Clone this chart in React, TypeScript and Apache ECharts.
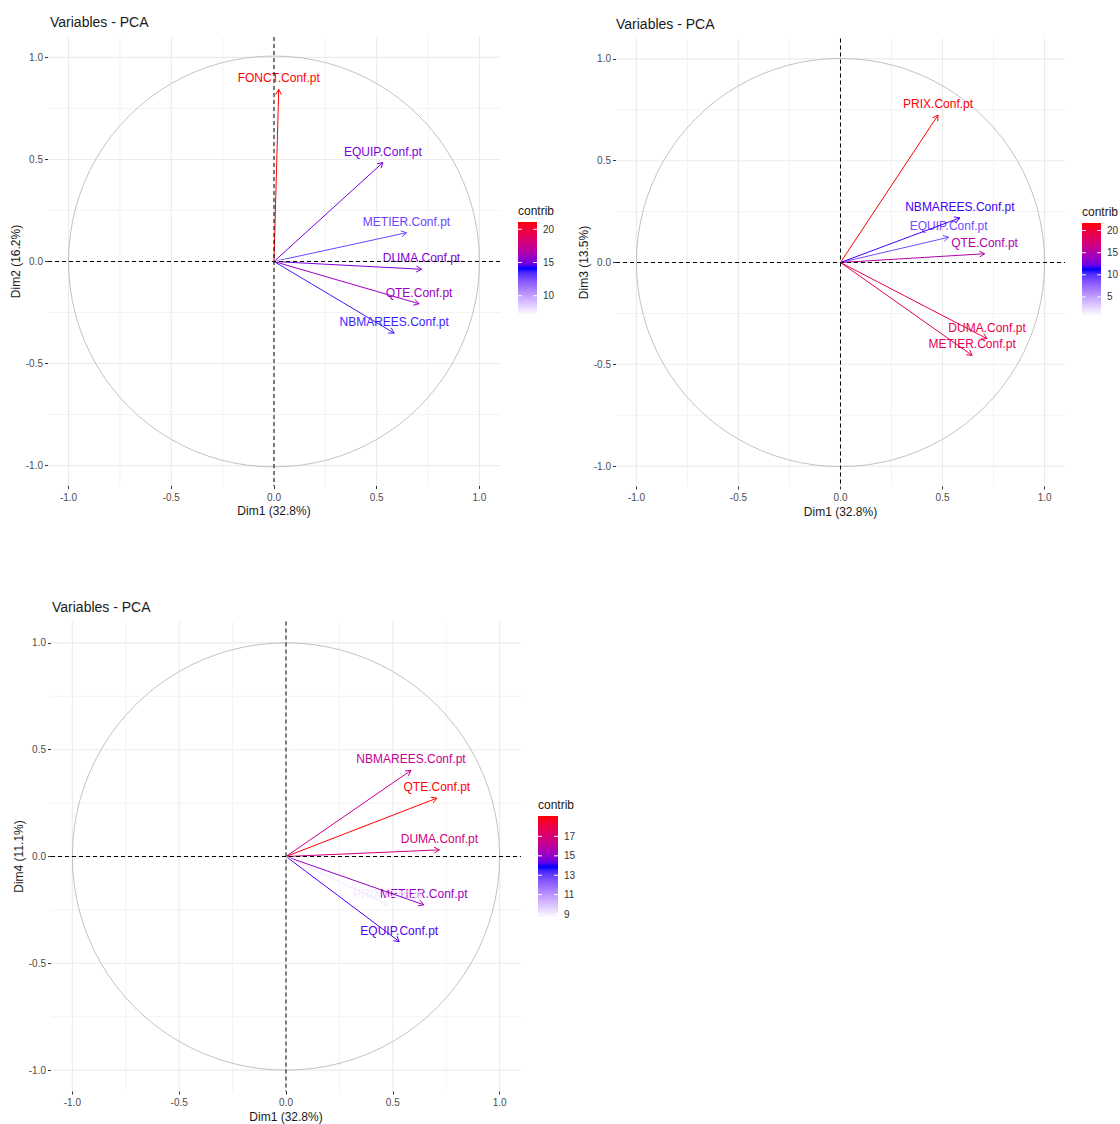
import React, { useEffect, useRef } from "react";
import * as echarts from "echarts";

// ---------------- DATA ----------------
const variables = [
  "FONCT.Conf.pt",
  "EQUIP.Conf.pt",
  "METIER.Conf.pt",
  "DUMA.Conf.pt",
  "QTE.Conf.pt",
  "NBMAREES.Conf.pt",
  "PRIX.Conf.pt",
];
const dim1 = [0.023, 0.53, 0.645, 0.718, 0.706, 0.585, 0.478];
const dim2 = [0.843, 0.485, 0.141, -0.038, -0.207, -0.351, 0.06];
const dim3 = [0.09, 0.124, -0.456, -0.374, 0.043, 0.219, 0.724];
const dim4 = [0.53, -0.398, -0.226, 0.031, 0.273, 0.403, -0.226];

const contrib12 = [21.1, 15.1, 12.8, 15.2, 15.9, 13.7, 7.1];
const contrib13 = [0.7, 8.9, 18.6, 19.3, 14.9, 11.6, 21.7];
const contrib14 = [8.6, 14.2, 15.1, 16.8, 19.1, 16.3, 9.1];

const legendTicks12 = [10, 15, 20];
const legendTicks13 = [5, 10, 15, 20];
const legendTicks14 = [9, 11, 13, 15, 17];

const axisTickValues = [-1, -0.5, 0, 0.5, 1];
const minorGridValues = [-0.75, -0.25, 0.25, 0.75];

const xName = "Dim1 (32.8%)";
const yNames = ["Dim2 (16.2%)", "Dim3 (13.5%)", "Dim4 (11.1%)"];
const titleText = "Variables - PCA";

// ---------------- COLOUR (Lab interpolation like ggplot) ----------------
function toLab(hex: string) {
  const r = parseInt(hex.slice(1, 3), 16) / 255;
  const g = parseInt(hex.slice(3, 5), 16) / 255;
  const b = parseInt(hex.slice(5, 7), 16) / 255;
  const lin = (c: number) => (c <= 0.04045 ? c / 12.92 : Math.pow((c + 0.055) / 1.055, 2.4));
  const R = lin(r), G = lin(g), B = lin(b);
  const X = (0.4124564 * R + 0.3575761 * G + 0.1804375 * B) / 0.95047;
  const Y = 0.2126729 * R + 0.7151522 * G + 0.072175 * B;
  const Z = (0.0193339 * R + 0.119192 * G + 0.9503041 * B) / 1.08883;
  const f = (t: number) => (t > 0.008856 ? Math.cbrt(t) : 7.787 * t + 16 / 116);
  const fx = f(X), fy = f(Y), fz = f(Z);
  return [116 * fy - 16, 500 * (fx - fy), 200 * (fy - fz)];
}
function fromLab(L: number, a: number, bb: number) {
  const fy = (L + 16) / 116;
  const fx = fy + a / 500;
  const fz = fy - bb / 200;
  const inv = (t: number) => (t * t * t > 0.008856 ? t * t * t : (t - 16 / 116) / 7.787);
  const X = inv(fx) * 0.95047, Y = inv(fy), Z = inv(fz) * 1.08883;
  const R = 3.2404542 * X - 1.5371385 * Y - 0.4985314 * Z;
  const G = -0.969266 * X + 1.8760108 * Y + 0.041556 * Z;
  const B = 0.0556434 * X - 0.2040259 * Y + 1.0572252 * Z;
  const gam = (c: number) => {
    const v = c <= 0.0031308 ? 12.92 * c : 1.055 * Math.pow(Math.max(c, 0), 1 / 2.4) - 0.055;
    return Math.round(Math.min(1, Math.max(0, v)) * 255);
  };
  return `rgb(${gam(R)},${gam(G)},${gam(B)})`;
}
const gradientCols = ["#FFFFFF", "#0000FF", "#FF0000"].map(toLab);
function colorAt(t: number) {
  const tt = Math.min(1, Math.max(0, t));
  const seg = tt <= 0.5 ? 0 : 1;
  const lt = seg === 0 ? tt / 0.5 : (tt - 0.5) / 0.5;
  const a = gradientCols[seg], b = gradientCols[seg + 1];
  return fromLab(a[0] + (b[0] - a[0]) * lt, a[1] + (b[1] - a[1]) * lt, a[2] + (b[2] - a[2]) * lt);
}

const FONT = '"Liberation Sans", Arial, sans-serif';

type Panel = {
  left: number; top: number; width: number; height: number;
  ys: number[]; contrib: number[]; yName: string;
  legend: { x: number; y: number; w: number; h: number; ticks: number[] };
  title: { x: number; y: number };
};

const panels: Panel[] = [
  {
    left: 48, top: 37, width: 452, height: 449, ys: dim2, contrib: contrib12, yName: yNames[0],
    legend: { x: 518, y: 222, w: 19, h: 93, ticks: legendTicks12 },
    title: { x: 50, y: 23 },
  },
  {
    left: 616, top: 38.5, width: 449, height: 448, ys: dim3, contrib: contrib13, yName: yNames[1],
    legend: { x: 1082, y: 223, w: 19, h: 93, ticks: legendTicks13 },
    title: { x: 616, y: 25 },
  },
  {
    left: 51, top: 621.5, width: 470, height: 470, ys: dim4, contrib: contrib14, yName: yNames[2],
    legend: { x: 538, y: 816, w: 20, h: 102, ticks: legendTicks14 },
    title: { x: 52, y: 608 },
  },
];

function buildOption() {
  const grid: any[] = [];
  const xAxis: any[] = [];
  const yAxis: any[] = [];
  const series: any[] = [];
  const graphic: any[] = [];

  panels.forEach((p, i) => {
    const cmin = Math.min(...p.contrib);
    const cmax = Math.max(...p.contrib);
    const colOf = (c: number) => colorAt((c - cmin) / (cmax - cmin));

    grid.push({ left: p.left, top: p.top, width: p.width, height: p.height, containLabel: false });
    const common = {
      gridIndex: i,
      type: "value",
      min: -1.1,
      max: 1.1,
      splitLine: { show: false },
      axisLine: { show: false, onZero: false },
      axisTick: { show: true, customValues: axisTickValues, length: 3, lineStyle: { color: "#333333", width: 1 } },
      axisLabel: {
        customValues: axisTickValues,
        formatter: (v: number) => v.toFixed(1),
        color: "#4D4D4D",
        fontSize: 10,
        fontFamily: FONT,
        margin: 6,
      },
      nameLocation: "middle",
      nameTextStyle: { fontSize: 12, color: "#1A1A1A", fontFamily: FONT },
    };
    xAxis.push({ ...common, name: xName, nameGap: 19 });
    yAxis.push({ ...common, name: p.yName, nameGap: 24, axisLabel: { ...common.axisLabel, margin: 5 } });

    // grid lines
    const gridData = [
      ...axisTickValues.map((v) => [v, 1]),
      ...minorGridValues.map((v) => [v, 0]),
    ];
    series.push({
      type: "custom",
      xAxisIndex: i,
      yAxisIndex: i,
      z: 0,
      silent: true,
      data: gridData,
      encode: { x: 0, y: 0 },
      renderItem: (params: any, api: any) => {
        const v = api.value(0);
        const major = api.value(1) === 1;
        const cs = params.coordSys;
        const px = api.coord([v, 0])[0];
        const py = api.coord([0, v])[1];
        const style = { stroke: "#EBEBEB", lineWidth: major ? 1.1 : 0.6 };
        return {
          type: "group",
          children: [
            { type: "line", shape: { x1: px, y1: cs.y, x2: px, y2: cs.y + cs.height }, style },
            { type: "line", shape: { x1: cs.x, y1: py, x2: cs.x + cs.width, y2: py }, style },
          ],
        };
      },
    });

    // correlation circle
    series.push({
      type: "custom",
      xAxisIndex: i,
      yAxisIndex: i,
      z: 1,
      silent: true,
      data: [[0, 0, 1]],
      encode: { x: 0, y: 1 },
      renderItem: (params: any, api: any) => {
        const c = api.coord([api.value(0), api.value(1)]);
        const r = api.size([api.value(2), 0])[0];
        return { type: "circle", shape: { cx: c[0], cy: c[1], r }, style: { stroke: "#B3B3B3", fill: "none", lineWidth: 0.8 } };
      },
    });

    const rows = variables.map((_, k) => [dim1[k], p.ys[k], p.contrib[k]]);

    // labels (drawn beneath the arrows)
    series.push({
      type: "custom",
      xAxisIndex: i,
      yAxisIndex: i,
      z: 2,
      silent: true,
      data: rows,
      encode: { x: 0, y: 1 },
      renderItem: (params: any, api: any) => {
        const t = api.coord([api.value(0), api.value(1)]);
        const col = colOf(api.value(2));
        return {
          type: "text",
          x: t[0],
          y: t[1] - 11,
          style: {
            text: variables[params.dataIndex],
            fill: col,
            fontSize: 12,
            fontFamily: FONT,
            align: "center",
            verticalAlign: "middle",
          },
        };
      },
    });

    // arrows
    series.push({
      type: "custom",
      xAxisIndex: i,
      yAxisIndex: i,
      z: 3,
      silent: true,
      data: rows,
      encode: { x: 0, y: 1 },
      renderItem: (params: any, api: any) => {
        const o = api.coord([0, 0]);
        const t = api.coord([api.value(0), api.value(1)]);
        const col = colOf(api.value(2));
        const ang = Math.atan2(t[1] - o[1], t[0] - o[0]);
        const L = 6, a = Math.PI / 6;
        const w1 = [t[0] - L * Math.cos(ang - a), t[1] - L * Math.sin(ang - a)];
        const w2 = [t[0] - L * Math.cos(ang + a), t[1] - L * Math.sin(ang + a)];
        return {
          type: "group",
          children: [
            { type: "line", shape: { x1: o[0], y1: o[1], x2: t[0], y2: t[1] }, style: { stroke: col, lineWidth: 1 } },
            { type: "polyline", shape: { points: [w1, t, w2] }, style: { stroke: col, lineWidth: 1, fill: null } },
          ],
        };
      },
    });

    // dashed axes
    series.push({
      type: "custom",
      xAxisIndex: i,
      yAxisIndex: i,
      z: 4,
      silent: true,
      data: [[0, 0]],
      encode: { x: 0, y: 1 },
      renderItem: (params: any, api: any) => {
        const cs = params.coordSys;
        const o = api.coord([api.value(0), api.value(1)]);
        const style = { stroke: "#000000", lineWidth: 1, lineDash: [4, 3] };
        return {
          type: "group",
          children: [
            { type: "line", shape: { x1: o[0], y1: cs.y, x2: o[0], y2: cs.y + cs.height }, style },
            { type: "line", shape: { x1: cs.x, y1: o[1], x2: cs.x + cs.width, y2: o[1] }, style },
          ],
        };
      },
    });

    // title
    graphic.push({
      type: "text",
      left: p.title.x,
      top: p.title.y - 8,
      style: { text: titleText, fontSize: 14, fontFamily: FONT, fill: "#1A1A1A" },
    });

    // legend (colour bar)
    const lg = p.legend;
    const nStops = 24;
    const stops: any[] = [];
    for (let s = 0; s <= nStops; s++) {
      stops.push({ offset: s / nStops, color: colorAt(1 - s / nStops) });
    }
    const children: any[] = [
      {
        type: "text",
        x: lg.x,
        y: lg.y - 11,
        style: { text: "contrib", fontSize: 12, fontFamily: FONT, fill: "#1A1A1A", verticalAlign: "middle" },
      },
      {
        type: "rect",
        shape: { x: lg.x, y: lg.y, width: lg.w, height: lg.h },
        style: { fill: new echarts.graphic.LinearGradient(0, 0, 0, 1, stops) },
      },
    ];
    lg.ticks.forEach((v) => {
      const py = lg.y + ((cmax - v) / (cmax - cmin)) * lg.h;
      children.push(
        { type: "line", shape: { x1: lg.x, y1: py, x2: lg.x + lg.w / 5, y2: py }, style: { stroke: "#FFFFFF", lineWidth: 1 } },
        { type: "line", shape: { x1: lg.x + lg.w - lg.w / 5, y1: py, x2: lg.x + lg.w, y2: py }, style: { stroke: "#FFFFFF", lineWidth: 1 } },
        {
          type: "text",
          x: lg.x + lg.w + 6,
          y: py,
          style: { text: String(v), fontSize: 10, fontFamily: FONT, fill: "#333333", verticalAlign: "middle" },
        }
      );
    });
    graphic.push({ type: "group", children });
  });

  return {
    animation: false,
    backgroundColor: "#FFFFFF",
    textStyle: { fontFamily: FONT },
    grid,
    xAxis,
    yAxis,
    series,
    graphic,
  };
}

export default function App() {
  const ref = useRef<HTMLDivElement>(null);
  useEffect(() => {
    document.body.style.margin = "0";
    if (!ref.current) return;
    const chart = echarts.init(ref.current, undefined, { renderer: "svg" });
    chart.setOption(buildOption() as any);
    return () => chart.dispose();
  }, []);
  return <div ref={ref} style={{ width: 1120, height: 1124 }} />;
}
